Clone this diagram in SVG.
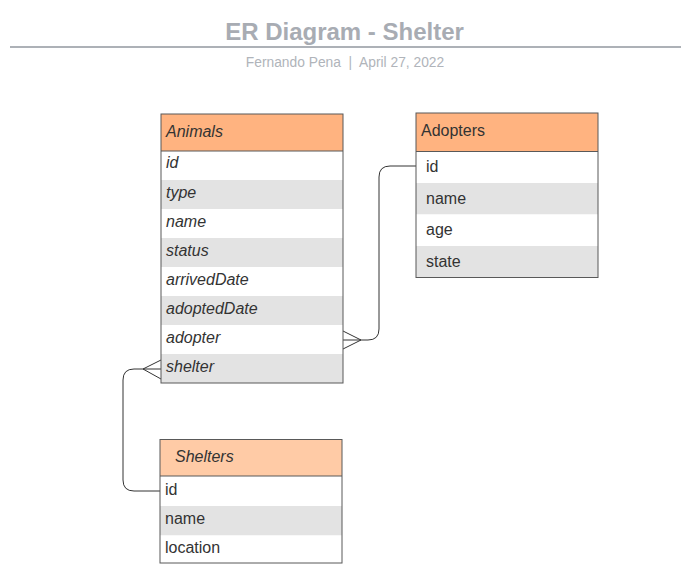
<svg xmlns="http://www.w3.org/2000/svg" width="694" height="584" viewBox="0 0 694 584">
<style>
.t{font-family:"Liberation Sans",Arial,sans-serif;font-size:16px;fill:#333}
.i{font-style:italic}
.box{fill:none;stroke:#595959;stroke-width:1}
.hd{fill:#ffb380}
.hd2{fill:#ffcba6}
.w{fill:#ffffff}
.g{fill:#e3e3e3}
.sep{stroke:#595959;stroke-width:1}
.c{fill:none;stroke:#333;stroke-width:1}
</style>
<rect width="694" height="584" fill="#fff"/>
<g id="title">
<text x="344.5" y="39.5" text-anchor="middle" font-family="Liberation Sans,Arial,sans-serif" font-size="24" font-weight="bold" fill="#a8acb3">ER Diagram - Shelter</text>
<line x1="10" y1="47" x2="681" y2="47" stroke="#adb1b7" stroke-width="2"/>
<text x="345" y="66.5" text-anchor="middle" font-family="Liberation Sans,Arial,sans-serif" font-size="13.8" fill="#b0b4ba" style="white-space:pre">Fernando Pena  |  April 27, 2022</text>
</g>
<g id="connectors">
<path class="c" d="M416 166 H390 Q379 166 379 177 V329 Q379 340 368 340 H343 M343 331 L361 340 L343 349"/>
<path class="c" d="M161 369 H134 Q123 369 123 380 V480 Q123 491 134 491 H160 M161 360 L143 369 L161 379"/>
</g>
<g id="animals">
<rect class="hd" x="161" y="114" width="182" height="37"/>
<rect class="w" x="161" y="151" width="182" height="29"/>
<rect class="g" x="161" y="180" width="182" height="29"/>
<rect class="w" x="161" y="209" width="182" height="29"/>
<rect class="g" x="161" y="238" width="182" height="29"/>
<rect class="w" x="161" y="267" width="182" height="29"/>
<rect class="g" x="161" y="296" width="182" height="29"/>
<rect class="w" x="161" y="325" width="182" height="29"/>
<rect class="g" x="161" y="354" width="182" height="29"/>
<line class="sep" x1="161" y1="151" x2="343" y2="151"/>
<rect class="box" x="161" y="114" width="182" height="269"/>
<text class="t i" x="166" y="137">Animals</text>
<text class="t i" x="166" y="168">id</text>
<text class="t i" x="166" y="198">type</text>
<text class="t i" x="166" y="227">name</text>
<text class="t i" x="166" y="256">status</text>
<text class="t i" x="166" y="285">arrivedDate</text>
<text class="t i" x="166" y="314">adoptedDate</text>
<text class="t i" x="166" y="343">adopter</text>
<text class="t i" x="166" y="372">shelter</text>
</g>
<g id="adopters">
<rect class="hd" x="416" y="113" width="182" height="38.5"/>
<rect class="w" x="416" y="151.5" width="182" height="31.5"/>
<rect class="g" x="416" y="183" width="182" height="31.5"/>
<rect class="w" x="416" y="214.5" width="182" height="31.5"/>
<rect class="g" x="416" y="246" width="182" height="31.5"/>
<line class="sep" x1="416" y1="151.5" x2="598" y2="151.5"/>
<rect class="box" x="416" y="113" width="182" height="164.5"/>
<text class="t" x="421" y="136">Adopters</text>
<text class="t" x="426" y="172">id</text>
<text class="t" x="426" y="204">name</text>
<text class="t" x="426" y="235">age</text>
<text class="t" x="426" y="267">state</text>
</g>
<g id="shelters">
<rect class="hd2" x="160" y="439.5" width="182" height="36.5"/>
<rect class="w" x="160" y="476" width="182" height="30"/>
<rect class="g" x="160" y="506" width="182" height="29.5"/>
<rect class="w" x="160" y="535.5" width="182" height="27.5"/>
<line class="sep" x1="160" y1="476" x2="342" y2="476"/>
<rect class="box" x="160" y="439.5" width="182" height="123.5"/>
<text class="t i" x="175" y="462">Shelters</text>
<text class="t" x="165" y="495">id</text>
<text class="t" x="165" y="524">name</text>
<text class="t" x="165" y="553">location</text>
</g>
</svg>
